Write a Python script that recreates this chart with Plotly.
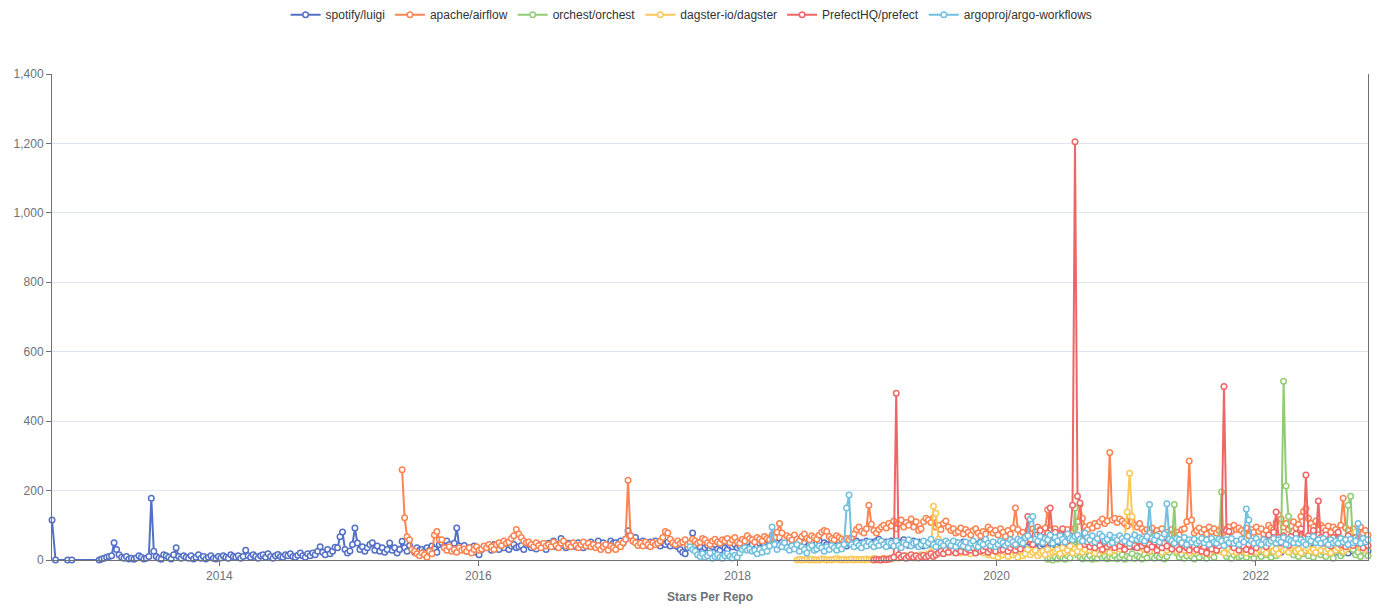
import plotly.graph_objects as go
import pandas as pd

# ---------------- data (weekly star counts) ----------------
series_names = ["spotify/luigi", "apache/airflow", "orchest/orchest",
                "dagster-io/dagster", "PrefectHQ/prefect", "argoproj/argo-workflows"]
series_colors = ["#5470c6", "#fc8452", "#91cc75", "#fac858", "#ee6666", "#73c0de"]

luigi_early_dates = ["2012-09-16", "2012-09-26", "2012-10-30", "2012-11-11"]
luigi_early_values = [115, 0, 0, 0]
luigi_start = "2013-01-27"
luigi_values = [
    0, 3, 5, 8, 10, 12, 50, 30, 15, 8, 5, 10, 3, 5, 2, 6, 12, 8, 3, 5, 10, 178, 25, 10, 5, 2,
    15, 12, 8, 3, 15, 35, 10, 5, 12, 8, 5, 12, 3, 8, 15, 5, 10, 3, 8, 12, 5, 3, 10, 6, 12, 8,
    5, 15, 10, 8, 12, 5, 10, 28, 12, 8, 15, 10, 5, 12, 15, 8, 18, 10, 5, 12, 16, 10, 8, 15, 12, 18,
    10, 8, 14, 20, 12, 8, 18, 12, 20, 15, 25, 38, 22, 15, 30, 18, 25, 37, 35, 67, 81, 30, 20, 26, 45, 92,
    49, 30, 38, 25, 35, 45, 50, 28, 40, 25, 35, 22, 30, 49, 28, 35, 20, 30, 54, 35, 25, 42, 30, 22, 35, 28,
    30, 25, 35, 28, 40, 32, 22, 45, 50, 38, 55, 45, 30, 48, 92, 40, 30, 42, 25, 35, 28, 40, 22, 15, 30, 38,
    35, 40, 28, 45, 38, 30, 42, 35, 48, 30, 40, 45, 35, 38, 42, 30, 45, 50, 35, 40, 32, 45, 38, 42, 30, 48,
    40, 55, 38, 45, 62, 42, 35, 48, 40, 45, 38, 50, 42, 35, 48, 40, 52, 45, 38, 55, 42, 50, 38, 45, 55, 48,
    50, 45, 55, 48, 60, 84, 70, 55, 65, 52, 45, 55, 48, 42, 52, 45, 55, 48, 40, 50, 45, 52, 40, 48, 42, 38,
    30, 22, 18, 35, 45, 78, 40, 30, 38, 25, 35, 42, 30, 38, 45, 32, 28, 40, 35, 30, 42, 38, 45, 35, 40, 48,
    42, 50, 38, 45, 55, 40, 48, 52, 45, 38, 50, 60, 55, 48, 42, 52, 45, 38, 50, 42, 48, 55, 40, 45, 50, 38,
    45, 52, 40, 48, 55, 42, 50, 45, 38, 52, 48, 42, 55, 45, 50, 40, 48, 52, 45, 55, 42, 50, 48, 55, 45, 52,
    48, 55, 60, 50, 45, 52, 42, 55, 48, 50, 45, 52, 58, 48, 42, 50, 55, 45, 52, 48, 40, 50, 45, 52, 48, 42,
    45, 50, 40, 52, 45, 48, 38, 50, 42, 45, 52, 40, 48, 44, 50, 38, 46, 52, 42, 48, 40, 45, 50, 42, 38, 46,
    44, 50, 38, 46, 52, 40, 48, 42, 55, 45, 38, 50, 44, 48, 52, 40, 46, 50, 42, 48, 55, 44, 38, 50, 46, 42,
    48, 40, 52, 45, 38, 50, 44, 48, 42, 55, 46, 40, 50, 44, 38, 48, 52, 42, 46, 40, 50, 44, 48, 38, 45, 50,
    42, 38, 45, 40, 48, 35, 44, 50, 38, 42, 46, 40, 35, 48, 42, 38, 45, 50, 40, 36, 44, 48, 38, 42, 46, 40,
    38, 44, 35, 42, 48, 40, 36, 45, 38, 42, 34, 46, 40, 38, 44, 35, 42, 48, 38, 40, 45, 36, 42, 38, 44, 40,
    35, 30, 38, 25, 32, 40, 28, 35, 22, 30, 38, 25, 32, 28, 35, 20, 30, 38, 26, 32, 24, 35, 28, 30, 22, 34,
    28, 32, 25, 35, 22, 30, 26, 33, 28, 20, 32, 25, 30, 35, 22, 28, 30, 26,
]

airflow_start = "2015-05-31"
airflow_values = [
    260, 122, 67, 58, 30, 25, 18, 12, 20, 15, 8, 25, 18, 72, 82, 58, 58, 35, 28, 38, 25, 30, 22, 35, 28, 32,
    25, 35, 20, 30, 38, 28, 32, 40, 35, 45, 38, 30, 45, 50, 42, 55, 48, 52, 62, 70, 88, 75, 65, 55, 50, 52,
    45, 38, 50, 42, 35, 48, 40, 45, 38, 52, 42, 35, 48, 55, 40, 45, 38, 50, 42, 35, 45, 52, 40, 48, 38, 45,
    35, 42, 30, 38, 45, 28, 40, 35, 30, 45, 38, 50, 60, 230, 70, 55, 50, 42, 48, 40, 52, 45, 38, 50, 44, 48,
    55, 65, 82, 78, 60, 50, 45, 55, 48, 52, 58, 45, 50, 60, 55, 48, 52, 62, 58, 50, 45, 55, 60, 52, 48, 58,
    55, 62, 50, 58, 65, 52, 48, 60, 55, 70, 62, 58, 52, 65, 60, 55, 68, 62, 58, 72, 65, 80, 105, 78, 62, 70,
    65, 58, 72, 60, 55, 68, 75, 62, 58, 70, 65, 60, 72, 80, 85, 82, 68, 62, 58, 70, 65, 60, 55, 62, 58, 65,
    75, 88, 95, 82, 78, 90, 158, 103, 85, 78, 88, 95, 100, 92, 105, 98, 112, 90, 105, 115, 95, 108, 100, 118, 95, 110,
    85, 90, 110, 120, 115, 108, 122, 95, 100, 88, 105, 112, 95, 85, 90, 78, 82, 92, 75, 88, 80, 72, 85, 90, 78, 70,
    82, 75, 95, 88, 78, 85, 72, 90, 80, 68, 85, 75, 92, 150, 88, 72, 80, 68, 85, 78, 90, 82, 95, 88, 80, 92,
    145, 85, 72, 90, 78, 68, 82, 75, 88, 70, 80, 92, 110, 160, 120, 95, 88, 100, 92, 105, 98, 110, 118, 105, 112, 310,
    115, 120, 108, 118, 112, 105, 98, 125, 110, 100, 95, 105, 90, 82, 88, 78, 92, 70, 85, 75, 90, 68, 80, 72, 88, 78,
    80, 72, 88, 90, 110, 285, 115, 78, 85, 92, 80, 88, 75, 95, 82, 90, 78, 85, 92, 80, 88, 95, 82, 100, 88, 92,
    85, 78, 92, 70, 88, 80, 95, 82, 90, 75, 85, 100, 92, 88, 108, 130, 118, 95, 105, 88, 98, 110, 92, 102, 125, 140,
    148, 120, 105, 95, 112, 88, 100, 92, 85, 98, 80, 95, 88, 78, 100, 178, 92, 85, 75, 90, 70, 82, 95, 78, 85, 72,
]

orchest_start = "2020-05-24"
orchest_values = [
    2, 5, 0, 8, 3, 10, 5, 2, 12, 6, 40, 150, 15, 8, 3, 10, 5, 12, 2, 8, 4, 15, 6, 10, 3, 8,
    5, 12, 3, 8, 15, 2, 10, 6, 18, 4, 12, 8, 3, 15, 6, 20, 10, 5, 12, 8, 15, 3, 10, 22, 45, 160,
    20, 8, 15, 5, 12, 25, 10, 3, 18, 8, 22, 12, 5, 15, 20, 8, 30, 60, 196, 25, 10, 18, 5, 15, 22, 8,
    12, 20, 8, 25, 15, 5, 18, 28, 10, 22, 15, 30, 8, 20, 12, 25, 40, 515, 213, 125, 30, 15, 22, 10, 28, 18,
    25, 12, 30, 8, 20, 35, 15, 22, 10, 28, 18, 5, 25, 32, 12, 20, 45, 158, 184, 30, 15, 22, 10, 25, 18, 12,
]

dagster_start = "2018-06-17"
dagster_values = [
    0, 2, 0, 1, 3, 0, 2, 0, 1, 0, 3, 2, 0, 1, 0, 2, 4, 1, 0, 2, 0, 1, 3, 0, 2, 1,
    2, 0, 3, 1, 2, 4, 1, 0, 3, 5, 2, 4, 3, 6, 8, 5, 10, 7, 12, 8, 10, 6, 12, 9, 15, 8,
    12, 18, 22, 155, 135, 60, 35, 25, 40, 30, 22, 35, 28, 42, 20, 32, 25, 38, 18, 30, 22, 35, 28, 20, 32, 15,
    20, 12, 25, 8, 18, 15, 22, 10, 28, 15, 20, 8, 25, 12, 18, 30, 15, 22, 28, 12, 20, 25, 15, 30, 18, 22,
    25, 30, 18, 35, 22, 28, 40, 20, 32, 25, 38, 22, 30, 45, 28, 35, 20, 32, 40, 25, 30, 38, 22, 35, 28, 42,
    32, 45, 58, 138, 250, 125, 55, 40, 35, 48, 30, 42, 25, 38, 45, 30, 35, 22, 40, 28, 35, 45, 30, 25, 38, 32,
    28, 35, 20, 40, 25, 32, 45, 22, 30, 38, 18, 35, 28, 42, 25, 30, 20, 38, 32, 25, 40, 22, 35, 28, 30, 20,
    32, 25, 38, 22, 30, 45, 28, 20, 35, 40, 25, 32, 18, 38, 28, 30, 22, 35, 42, 25, 30, 20, 38, 28, 32, 25,
    30, 22, 35, 28, 40, 25, 32, 20, 38, 28, 35, 42, 25, 30, 38, 45, 55, 80, 45, 35, 42, 30, 38,
]

prefect_start = "2019-01-20"
prefect_values = [
    0, 2, 1, 0, 3, 1, 2, 5, 8, 480, 15, 8, 12, 5, 10, 15, 8, 12, 6, 10, 14, 8, 12, 18, 10, 15,
    20, 25, 18, 30, 22, 35, 28, 20, 32, 25, 38, 22, 30, 28, 35, 20, 32, 25, 28, 38, 22, 30, 35, 25, 40, 28,
    30, 42, 25, 35, 45, 28, 38, 32, 48, 55, 125, 60, 45, 72, 55, 85, 62, 50, 78, 150, 68, 80, 60, 72, 90, 65,
    55, 70, 158, 1205, 184, 164, 60, 45, 52, 38, 48, 35, 55, 42, 30, 50, 38, 45, 60, 35, 48, 40, 52, 30, 45, 38,
    50, 42, 35, 55, 40, 48, 30, 45, 38, 52, 28, 42, 35, 48, 40, 55, 32, 45, 38, 30, 50, 42, 35, 28, 45, 38,
    30, 45, 25, 38, 20, 42, 32, 48, 28, 40, 55, 500, 85, 82, 45, 35, 50, 28, 42, 38, 30, 45, 25, 40, 35, 48,
    45, 60, 38, 72, 55, 80, 138, 65, 48, 70, 55, 42, 68, 50, 75, 58, 90, 62, 245, 70, 55, 85, 60, 170, 65, 48,
    72, 55, 40, 65, 50, 80, 45, 60, 38, 70, 52, 42, 65, 48, 58, 35, 50, 42,
]

argo_start = "2017-08-20"
argo_values = [
    38, 30, 25, 15, 10, 18, 8, 12, 20, 5, 10, 15, 8, 5, 12, 18, 10, 6, 14, 8, 20, 30, 35, 28, 32, 25,
    28, 18, 30, 22, 35, 25, 40, 95, 45, 30, 42, 38, 50, 35, 28, 40, 32, 45, 25, 38, 30, 20, 35, 42, 28, 32,
    40, 35, 25, 38, 30, 42, 35, 28, 40, 32, 45, 150, 187, 45, 38, 50, 42, 35, 48, 40, 52, 45, 38, 50, 42, 55,
    45, 38, 52, 48, 40, 55, 42, 35, 50, 45, 58, 40, 48, 52, 38, 45, 55, 42, 50, 60, 45, 38, 52, 48, 42, 55,
    48, 42, 55, 38, 50, 45, 40, 52, 35, 48, 55, 42, 38, 50, 45, 60, 48, 42, 52, 38, 45, 55, 50, 42, 48, 58,
    52, 45, 60, 55, 48, 65, 70, 118, 125, 60, 55, 68, 50, 62, 58, 72, 48, 65, 55, 70, 60, 52, 75, 62, 58, 68,
    72, 60, 55, 78, 65, 58, 70, 52, 62, 75, 68, 55, 60, 72, 50, 65, 58, 70, 62, 55, 68, 48, 60, 72, 58, 65,
    60, 55, 68, 160, 62, 58, 70, 52, 65, 75, 162, 60, 55, 48, 62, 58, 50, 65, 45, 58, 52, 60, 48, 55, 62, 50,
    58, 45, 62, 52, 48, 60, 55, 42, 58, 50, 62, 48, 55, 45, 60, 52, 147, 115, 55, 48, 62, 50, 45, 58, 52, 48,
    55, 62, 48, 58, 52, 65, 45, 60, 55, 50, 62, 48, 58, 52, 45, 60, 55, 68, 50, 58, 48, 62, 52, 45, 58, 50,
    55, 48, 62, 52, 58, 45, 60, 50, 55, 105, 48, 62, 52, 58,
]

x_tick_dates = ["2014-01-01", "2016-01-01", "2018-01-01", "2020-01-01", "2022-01-01"]
x_tick_labels = ["2014", "2016", "2018", "2020", "2022"]
x_range = ["2012-09-16", "2022-11-13"]
y_tick_values = [0, 200, 400, 600, 800, 1000, 1200, 1400]


def weekly(start, values):
    return list(pd.date_range(start=start, periods=len(values), freq="7D"))


luigi_x = list(pd.to_datetime(luigi_early_dates)) + weekly(luigi_start, luigi_values)
luigi_y = luigi_early_values + luigi_values

series = [
    (luigi_x, luigi_y),
    (weekly(airflow_start, airflow_values), airflow_values),
    (weekly(orchest_start, orchest_values), orchest_values),
    (weekly(dagster_start, dagster_values), dagster_values),
    (weekly(prefect_start, prefect_values), prefect_values),
    (weekly(argo_start, argo_values), argo_values),
]

fig = go.Figure()
for (xs, ys), name, color in zip(series, series_names, series_colors):
    fig.add_trace(go.Scatter(
        x=xs, y=ys, name=name, mode="lines+markers",
        line=dict(color=color, width=2),
        marker=dict(symbol="circle", size=5.5, color="white",
                    line=dict(color=color, width=1.5)),
        cliponaxis=False,
    ))

axis_color = "#6E7079"
font_family = "Liberation Sans, Arial, sans-serif"

fig.update_layout(
    width=1383, height=608,
    margin=dict(l=52, r=15, t=74, b=48, autoexpand=False),
    paper_bgcolor="white", plot_bgcolor="white",
    font=dict(family=font_family, size=12, color=axis_color),
    showlegend=True,
    legend=dict(orientation="h", x=0.486, xanchor="center", y=1.152, yanchor="top",
                font=dict(size=12, color="#333"),
                bgcolor="rgba(0,0,0,0)"),
    xaxis=dict(
        type="date", range=x_range, automargin=False,
        tickvals=x_tick_dates, ticktext=x_tick_labels,
        showgrid=False, zeroline=False,
        showline=True, linecolor=axis_color, linewidth=1,
        ticks="outside", ticklen=5, tickcolor=axis_color,
        tickfont=dict(size=12, color=axis_color),
        title=dict(text="<b>Stars Per Repo</b>", font=dict(size=12, color=axis_color), standoff=10),
    ),
    yaxis=dict(
        range=[0, 1400], tickvals=y_tick_values, tickformat=",", automargin=False,
        showgrid=True, gridcolor="#E0E6F1", gridwidth=1, zeroline=False,
        showline=True, linecolor=axis_color, linewidth=1, mirror=True,
        ticks="outside", ticklen=5, tickcolor=axis_color,
        tickfont=dict(size=12, color=axis_color),
    ),
)

fig.write_html("out.html", config={"displayModeBar": False},
               post_script="document.body.style.margin='0px';")
